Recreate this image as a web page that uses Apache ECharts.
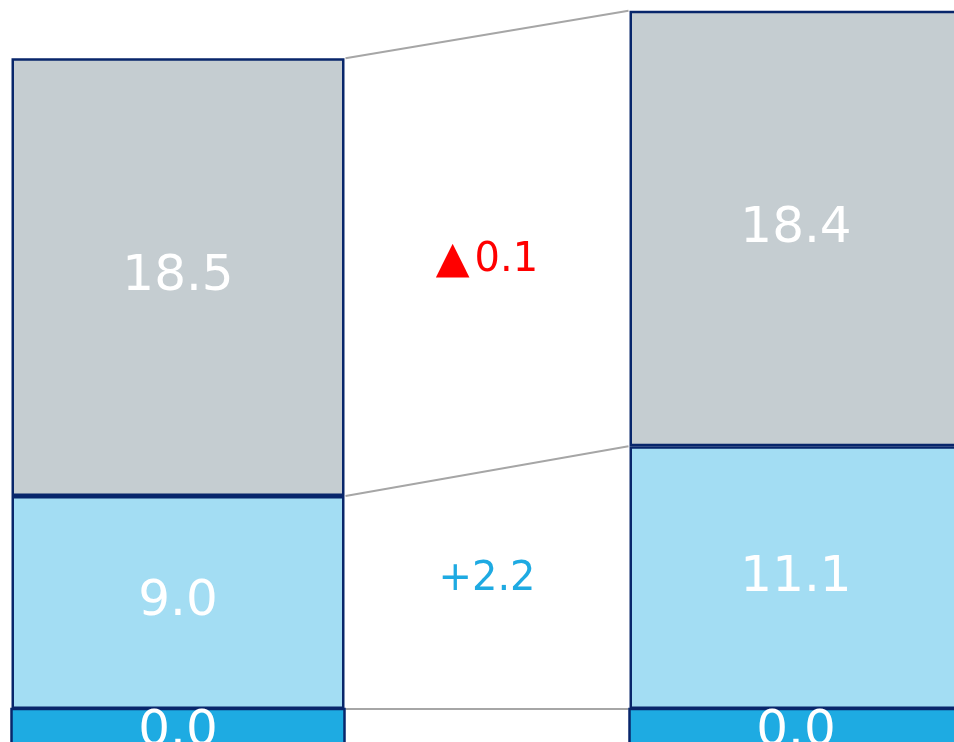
<!DOCTYPE html>
<html>
<head>
<meta charset="utf-8">
<script src="https://cdn.jsdelivr.net/npm/echarts@6/dist/echarts.min.js"></script>
<style>
  html, body { margin: 0; padding: 0; background: #fff; }
  #main { width: 954px; height: 742px; }
</style>
</head>
<body>
<div id="main"></div>
<script>
// data
const categories = ['前期', '当期']
const baseValues = [0.0, 0.0]
const midValues = [9.0, 11.1]
const topValues = [18.5, 18.4]
const deltaLabels = ['+2.2', '▲0.1']

// styles
const FONT = 'DejaVu Sans'
const BAR_WIDTH = 333
const BASE_HEIGHT = 46
const BORDER = '#08266b'
const BORDER_W = 2.5
const deltaColors = ['#1eaae2', '#ff0000']
const deltaOffsets = [-10, 8]

const chart = echarts.init(document.getElementById('main'))

// cumulative levels for the connector lines
const levels = [0, 1, 2].map(k => {
  const cum = i => [baseValues, midValues, topValues].slice(0, k + 1).reduce((s, a) => s + a[i], 0)
  return [0, cum(0), cum(1)]
})
// segment bounds for the delta labels: [x, loL, hiL, loR, hiR]
const deltaData = [
  [0, levels[0][1], levels[1][1], levels[0][2], levels[1][2]],
  [0, levels[1][1], levels[2][1], levels[1][2], levels[2][2]]
]

function barLabel (size) {
  return {
    show: true,
    position: 'inside',
    color: '#fff',
    fontSize: size,
    fontFamily: FONT,
    formatter: p => p.value.toFixed(1)
  }
}

// split a leading triangle so it can be drawn a bit larger
function deltaText (s) {
  return s.charAt(0) === '▲' ? '{tri|▲}' + s.slice(1) : s
}

const option = {
  animation: false,
  grid: { left: -131, width: 1236, top: -1, bottom: 33, outerBoundsMode: 'none', containLabel: false },
  xAxis: {
    type: 'category',
    data: categories,
    show: false
  },
  yAxis: {
    type: 'value',
    min: 0,
    max: 30,
    show: false
  },
  series: [
    {
      // zero base segment, kept in the stack; drawn by the custom series below
      type: 'bar',
      stack: 'a',
      data: baseValues,
      barWidth: BAR_WIDTH,
      itemStyle: { color: 'transparent', borderWidth: 0 },
      silent: true
    },
    {
      type: 'bar',
      stack: 'a',
      data: midValues,
      barWidth: BAR_WIDTH,
      itemStyle: { color: '#a3ddf3', borderColor: BORDER, borderWidth: BORDER_W },
      label: barLabel(50)
    },
    {
      type: 'bar',
      stack: 'a',
      data: topValues,
      barWidth: BAR_WIDTH,
      itemStyle: { color: '#c5cdd1', borderColor: BORDER, borderWidth: BORDER_W },
      label: barLabel(50)
    },
    {
      // base block hanging below the zero line
      type: 'custom',
      coordinateSystem: 'cartesian2d',
      clip: false,
      data: baseValues.map((v, i) => [i, v]),
      z: 3,
      renderItem: (params, api) => {
        const p = api.coord([api.value(0), api.value(1)])
        return {
          type: 'rect',
          shape: { x: p[0] - BAR_WIDTH / 2, y: p[1], width: BAR_WIDTH, height: BASE_HEIGHT },
          style: { fill: '#1eabe2', stroke: BORDER, lineWidth: BORDER_W },
          textContent: {
            style: {
              text: api.value(1).toFixed(1),
              fill: '#fff',
              font: '50px "' + FONT + '"'
            }
          },
          textConfig: { position: 'inside' }
        }
      }
    },
    {
      type: 'custom',
      coordinateSystem: 'cartesian2d',
      encode: { x: 0, y: [1, 2] },
      data: levels,
      silent: true,
      z: 1,
      renderItem: (params, api) => {
        const a = api.coord([0, api.value(1)])
        const b = api.coord([1, api.value(2)])
        return {
          type: 'line',
          shape: { x1: a[0] + BAR_WIDTH / 2 + 1, y1: a[1], x2: b[0] - BAR_WIDTH / 2 - 1, y2: b[1] },
          style: { stroke: '#a6a6a6', lineWidth: 2 }
        }
      }
    },
    {
      type: 'custom',
      coordinateSystem: 'cartesian2d',
      encode: { x: 0, y: [1, 2, 3, 4] },
      data: deltaData,
      silent: true,
      renderItem: (params, api) => {
        const i = params.dataIndex
        const l = api.coord([0, (api.value(1) + api.value(2)) / 2])
        const r = api.coord([1, (api.value(3) + api.value(4)) / 2])
        return {
          type: 'text',
          x: (l[0] + r[0]) / 2,
          y: (l[1] + r[1]) / 2 + deltaOffsets[i],
          style: {
            text: deltaText(deltaLabels[i]),
            fill: deltaColors[i],
            fontSize: 40,
            fontFamily: FONT,
            align: 'center',
            verticalAlign: 'middle',
            rich: {
              tri: { fontSize: 44, fontFamily: FONT, fill: deltaColors[i], padding: [0, 5, 0, 0] }
            }
          }
        }
      }
    }
  ]
}

chart.setOption(option)
</script>
</body>
</html>
